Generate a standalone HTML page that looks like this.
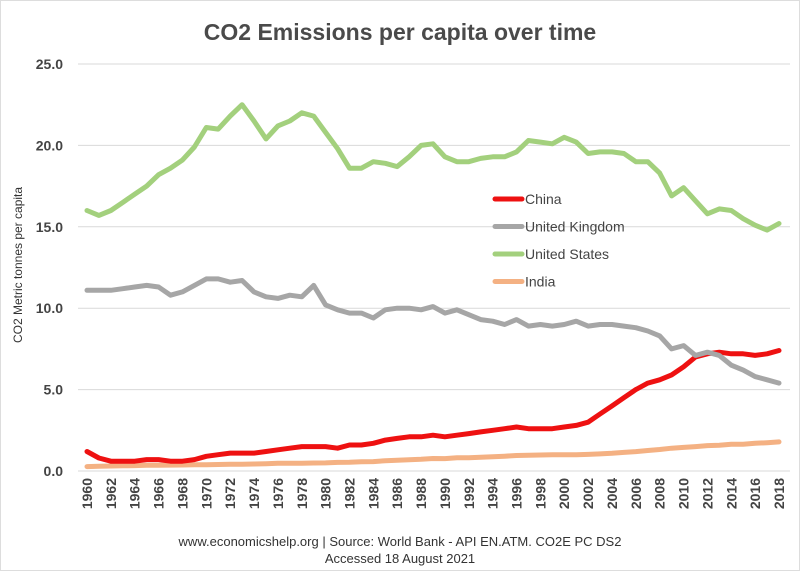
<!DOCTYPE html>
<html><head><meta charset="utf-8"><style>
body{margin:0;background:#fff;font-family:"Liberation Sans",sans-serif}
svg text{font-family:"Liberation Sans",sans-serif}
</style></head><body>
<svg width="800" height="571" xmlns="http://www.w3.org/2000/svg">
<rect x="0.5" y="0.5" width="799" height="570" fill="#fff" stroke="#ddd"/>
<text x="400" y="40" text-anchor="middle" font-size="23" font-weight="bold" fill="#4a4a4a">CO2 Emissions per capita over time</text>
<text transform="translate(22,265) rotate(-90)" text-anchor="middle" font-size="12" fill="#333">CO2 Metric tonnes per capita</text>
<g id="grid"></g><g id="series"></g><g id="xt"></g>
<text x="400" y="546" text-anchor="middle" font-size="13" fill="#333">www.economicshelp.org  | Source: World Bank - API EN.ATM. CO2E PC DS2</text>
<text x="400" y="563" text-anchor="middle" font-size="13" fill="#333">Accessed 18 August 2021</text>
<g id="legend"></g>
</svg>
<script>
const years=[];for(let y=1960;y<=2018;y++)years.push(y);
const yTicks=[0,5,10,15,20,25];
const usValues=[16.0,15.7,16.0,16.5,17.0,17.5,18.2,18.6,19.1,19.9,21.1,21.0,21.8,22.5,21.5,20.4,21.2,21.5,22.0,21.8,20.8,19.8,18.6,18.6,19.0,18.9,18.7,19.3,20.0,20.1,19.3,19.0,19.0,19.2,19.3,19.3,19.6,20.3,20.2,20.1,20.5,20.2,19.5,19.6,19.6,19.5,19.0,19.0,18.3,16.9,17.4,16.6,15.8,16.1,16.0,15.5,15.1,14.8,15.2];
const ukValues=[11.1,11.1,11.1,11.2,11.3,11.4,11.3,10.8,11.0,11.4,11.8,11.8,11.6,11.7,11.0,10.7,10.6,10.8,10.7,11.4,10.2,9.9,9.7,9.7,9.4,9.9,10.0,10.0,9.9,10.1,9.7,9.9,9.6,9.3,9.2,9.0,9.3,8.9,9.0,8.9,9.0,9.2,8.9,9.0,9.0,8.9,8.8,8.6,8.3,7.5,7.7,7.1,7.3,7.1,6.5,6.2,5.8,5.6,5.4];
const chinaValues=[1.2,0.8,0.6,0.6,0.6,0.7,0.7,0.6,0.6,0.7,0.9,1.0,1.1,1.1,1.1,1.2,1.3,1.4,1.5,1.5,1.5,1.4,1.6,1.6,1.7,1.9,2.0,2.1,2.1,2.2,2.1,2.2,2.3,2.4,2.5,2.6,2.7,2.6,2.6,2.6,2.7,2.8,3.0,3.5,4.0,4.5,5.0,5.4,5.6,5.9,6.4,7.0,7.2,7.3,7.2,7.2,7.1,7.2,7.4];
const indiaValues=[0.27,0.29,0.31,0.32,0.33,0.35,0.35,0.36,0.37,0.38,0.39,0.40,0.41,0.42,0.43,0.45,0.47,0.47,0.47,0.49,0.50,0.53,0.54,0.57,0.58,0.63,0.66,0.69,0.72,0.77,0.76,0.81,0.82,0.85,0.87,0.91,0.95,0.97,0.98,1.00,1.00,1.00,1.02,1.05,1.09,1.14,1.19,1.26,1.32,1.40,1.45,1.50,1.56,1.58,1.64,1.64,1.70,1.74,1.79];
const seriesNames=["China","United Kingdom","United States","India"];
const NS="http://www.w3.org/2000/svg";
const X0=87,X1=779,Y0=471,Y1=64;
const xs=y=>X0+(y-1960)*(X1-X0)/58;
const ys=v=>Y0-v*(Y0-Y1)/25;
function mk(t,a,p){const e=document.createElementNS(NS,t);for(const k in a)e.setAttribute(k,a[k]);p.appendChild(e);return e;}
const grid=document.getElementById('grid');
yTicks.forEach(v=>{
 const l=mk('line',{x1:78,x2:790,y1:ys(v),y2:ys(v),stroke:'#d9d9d9','stroke-width':1},grid);
 
 
 const t=mk('text',{x:63,y:ys(v)+5,'text-anchor':'end','font-size':14,'font-weight':'bold',fill:'#444'},grid);
 t.textContent=v.toFixed(1);
 
 
});
const xt=document.getElementById('xt');
years.filter(y=>y%2==0).forEach(y=>{
 const t=mk('text',{transform:`translate(${xs(y)+5},478) rotate(-90)`,'text-anchor':'end','font-size':14,'font-weight':'bold',fill:'#444'},xt);
 t.textContent=y;
 
 
});
const colors=['#ee1111','#a6a6a6','#a3d07d','#f4b183'];
const data=[chinaValues,ukValues,usValues,indiaValues];
const order=[3,0,1,2];
const sg=document.getElementById('series');
order.forEach(i=>{
 const d=data[i].map((v,j)=>(j?'L':'M')+xs(years[j]).toFixed(1)+','+ys(v).toFixed(1)).join('');
 const p=mk('path',{d:d,fill:'none',stroke:colors[i],'stroke-width':5,'stroke-linejoin':'round','stroke-linecap':'round'},sg);
 
 
});
const lg=document.getElementById('legend');
seriesNames.forEach((n,i)=>{
 const y=199+i*27.5;
 const l=mk('line',{x1:495,x2:522,y1:y,y2:y,stroke:colors[i],'stroke-width':5,'stroke-linecap':'round'},lg);
 
 
 const t=mk('text',{x:525,y:y+5,'font-size':14,fill:'#444'},lg);
 t.textContent=n;
 
 
});
</script>
</body></html>
